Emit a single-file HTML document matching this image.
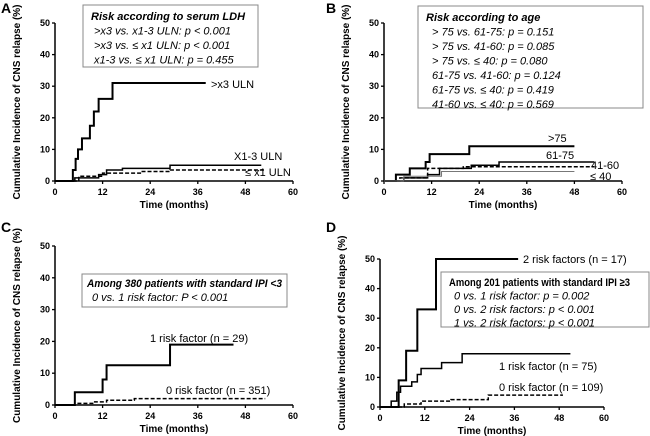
<!DOCTYPE html>
<html><head><meta charset="utf-8"><style>
body{margin:0;background:#fff}
svg{display:block}
text{font-family:"Liberation Sans",sans-serif}
</style></head><body>
<svg id="s" width="650" height="436" xmlns="http://www.w3.org/2000/svg"></svg>
<script>
const xTicks=[0,12,24,36,48,60];
const yTicks=[0,10,20,30,40,50];
// Panel A
const aHighT=[0,4.5,5.2,5.8,6.8,8.8,9.8,11,14.5,38];
const aHighV=[0,3.5,7,10,13.5,17.5,22,26,31,31];
const aMidT=[0,5,11,13,17,29,52];
const aMidV=[0,1,2,3.5,4,5,5];
const aLowT=[0,6,12,22,29,53];
const aLowV=[0,1.5,2.5,3,3.5,3.5];
// Panel B
const b75T=[0,3,6.5,10.5,11.5,21.5,48];
const b75V=[0,2,4,6,8.5,11,11];
const b61T=[0,5,11,14,22,29,53];
const b61V=[0,1,2,4,5,6,6];
const b41T=[0,4,11,20,53];
const b41V=[0,1,4,4.5,4.5];
const b40T=[0,5,14.5,48];
const b40V=[0,1.5,3,3];
// Panel C
const c1T=[0,5,12,13,29,45];
const c1V=[0,4,8,12.5,19,19];
const c0T=[0,5,10,13,20,53];
const c0V=[0,0.5,1,1.5,2,2];
// Panel D
const d2T=[0,5,7,10,15,37];
const d2V=[0,9,19,33,50,50];
const d1T=[0,3,4.5,5.5,8.5,10,11,16.5,22,51];
const d1V=[0,2,5,7,8.5,11,13,15,18,18];
const d0T=[0,6.5,11,19,29,49];
const d0V=[0,1,2,2.5,4,4];

const svg=document.getElementById('s');
const NS='http://www.w3.org/2000/svg';
function el(tag,attrs,txt){const e=document.createElementNS(NS,tag);for(const k in attrs)e.setAttribute(k,attrs[k]);if(txt!==undefined)e.textContent=txt;svg.appendChild(e);return e;}

function panel(p){
  const sx=t=>p.x0+(p.x1-p.x0)*t/60;
  const sy=v=>p.y0+(p.y1-p.y0)*v/50;
  let e=el('text',{x:p.lx,y:p.ly,'font-size':14,'font-weight':'bold'},p.letter);
  
  
  e=el('path',{d:`M${p.x0},${p.y1} V${p.y0} H${p.x1}`,fill:'none',stroke:'#000','stroke-width':1.5});
  
  
  xTicks.forEach(t=>{
    el('line',{x1:sx(t),x2:sx(t),y1:p.y0,y2:p.y0+3,stroke:'#000','stroke-width':1.3});
    e=el('text',{x:sx(t),y:p.y0+14,'font-size':9,'font-weight':'bold','text-anchor':'middle'},t);
    
    
  });
  yTicks.forEach(v=>{
    el('line',{x1:p.x0-3,x2:p.x0,y1:sy(v),y2:sy(v),stroke:'#000','stroke-width':1.3});
    e=el('text',{x:p.x0-5,y:sy(v)+3,'font-size':9,'font-weight':'bold','text-anchor':'end'},v);
    
    
  });
  e=el('text',{x:(p.x0+p.x1)/2,y:p.y0+27,'font-size':10,'font-weight':'bold','text-anchor':'middle'},'Time  (months)');
  
  
  const cy=(p.y0+p.y1)/2;
  e=el('text',{x:0,y:0,'font-size':10,'font-weight':'bold','text-anchor':'middle',transform:`translate(${p.x0-35},${cy}) rotate(-90)`},'Cumulative Incidence of CNS relapse (%)');
  
  
  p.series.forEach(s=>{
    let d=`M${sx(s.t[0])},${sy(s.v[0])}`;
    for(let i=1;i<s.t.length;i++){d+=` H${sx(s.t[i])} V${sy(s.v[i])}`;}
    e=el('path',{d:d,fill:'none',stroke:s.c||'#000','stroke-width':s.w||2,'stroke-dasharray':s.dash||'none'});
    
    
    e=el('text',{x:s.lx,y:s.ly,'font-size':11},s.label);
    
    
  });
  const b=p.box;
  e=el('rect',{x:b.x,y:b.y,width:b.w,height:b.h,fill:'#fff',stroke:'#888','stroke-width':1});
  
  
  b.lines.forEach((l,i)=>{
    const at={x:b.x+(i==0?b.pad0:b.pad1),y:b.y+b.ty+i*b.lh,'font-size':b.fs||11,'font-style':b.italic0||i>0?'italic':'normal','font-weight':i==0?'bold':'normal'};
    if(i==0&&b.tl){at.textLength=b.tl;at.lengthAdjust='spacingAndGlyphs';}
    e=el('text',at,l);
    
    
  });
}
panel({letter:'A',lx:1,ly:13,x0:55,x1:293,y0:181,y1:23,
 series:[{name:'gt3uln',t:aHighT,v:aHighV,label:'>x3 ULN',lx:211,ly:88},
 {name:'x1-3uln',t:aMidT,v:aMidV,w:1.5,label:'X1-3 ULN',lx:234,ly:160},
 {name:'le1uln',t:aLowT,v:aLowV,w:1.5,dash:'4,2',label:'≤  x1 ULN',lx:245,ly:176}],
 box:{x:83,y:5,w:175,h:62,pad0:8,pad1:11,ty:15,lh:14.5,italic0:true,lines:['Risk according to serum LDH','>x3 vs. x1-3 ULN: p < 0.001','>x3 vs. ≤ x1 ULN:  p < 0.001','x1-3 vs. ≤ x1 ULN: p = 0.455']}});
panel({letter:'B',lx:326,ly:13,x0:384,x1:622,y0:181,y1:23,
 series:[{name:'gt75',t:b75T,v:b75V,label:'>75',lx:548,ly:142},
 {name:'61-75',t:b61T,v:b61V,w:1.5,label:'61-75',lx:546,ly:159},
 {name:'41-60',t:b41T,v:b41V,w:1.5,dash:'4,2',label:'41-60',lx:591,ly:169},
 {name:'le40',t:b40T,v:b40V,w:1,c:'#777',label:'≤ 40',lx:590,ly:180}],
 box:{x:418,y:6,w:225,h:102,pad0:8,pad1:14,ty:15,lh:14.5,italic0:true,lines:['Risk according to age','> 75 vs. 61-75: p = 0.151','> 75 vs. 41-60:  p = 0.085','> 75 vs. ≤ 40: p = 0.080','61-75 vs. 41-60: p = 0.124','61-75 vs. ≤ 40: p = 0.419','41-60 vs. ≤ 40: p = 0.569']}});
panel({letter:'C',lx:1,ly:232,x0:55,x1:293,y0:405,y1:246,
 series:[{name:'1-risk-factor',t:c1T,v:c1V,label:'1 risk factor (n = 29)',lx:150,ly:342},
 {name:'0-risk-factor',t:c0T,v:c0V,w:1.5,dash:'4,2',label:'0 risk factor (n = 351)',lx:166,ly:394}],
 box:{x:82,y:274,w:205,h:33,pad0:5,pad1:10,ty:13,lh:14,italic0:true,tl:195,lines:['Among 380 patients with standard IPI <3','0 vs. 1 risk factor: P < 0.001']}});
panel({letter:'D',lx:326,ly:232,x0:380,x1:604,y0:407,y1:259,
 series:[{name:'2-risk-factors',t:d2T,v:d2V,label:'2 risk factors (n = 17)',lx:523,ly:263},
 {name:'1-risk-factor',t:d1T,v:d1V,w:1.5,label:'1 risk factor (n = 75)',lx:499,ly:370},
 {name:'0-risk-factor',t:d0T,v:d0V,w:1.5,dash:'4,2',label:'0 risk factor (n = 109)',lx:499,ly:391}],
 box:{x:441,y:272,w:208,h:55,pad0:8,pad1:13,ty:14,lh:13.5,italic0:false,tl:181,lines:['Among 201 patients with standard IPI ≥3','0 vs. 1 risk factor: p = 0.002','0 vs. 2 risk factors: p < 0.001','1 vs. 2 risk factors: p < 0.001']}});
</script>
</body></html>
